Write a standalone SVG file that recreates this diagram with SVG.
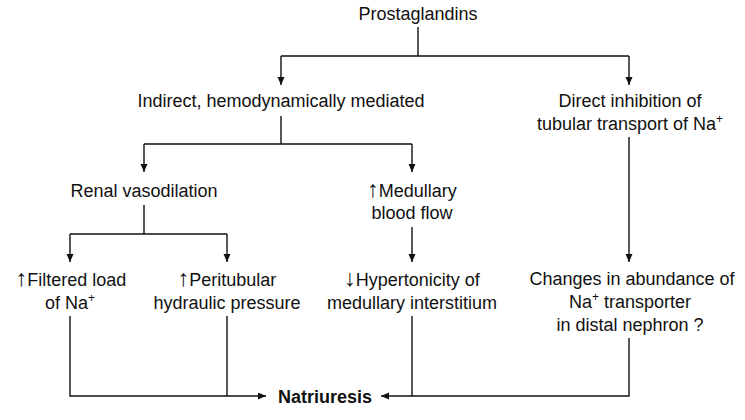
<svg xmlns="http://www.w3.org/2000/svg" width="745" height="420" viewBox="0 0 745 420">
  <defs>
    <style>
      .t { font-family: "Liberation Sans", Arial, sans-serif; font-size: 18px; fill: #111; text-anchor: middle; }
      .b { font-weight: bold; }
      .ar { font-size: 23px; }
      .c { fill: none; stroke: #111; stroke-width: 1.4; }
      .a { marker-end: url(#arr); }
    </style>
    <marker id="arr" markerUnits="userSpaceOnUse" markerWidth="8" markerHeight="8" refX="8" refY="3.5" orient="auto">
      <path d="M0,0 L8,3.5 L0,7 z" fill="#111"/>
    </marker>
  </defs>
  <rect width="745" height="420" fill="#fff"/>

  <g id="connectors">
    <path class="c" d="M418,27 V56 M281,56 H629"/>
    <path class="c a" d="M281,56 V85"/>
    <path class="c a" d="M629,56 V85"/>
    <path class="c" d="M281,116 V144 M144,144 H412"/>
    <path class="c a" d="M144,144 V172"/>
    <path class="c a" d="M412,144 V172"/>
    <path class="c a" d="M629,137 V262"/>
    <path class="c" d="M144,205 V234 M70,234 H227"/>
    <path class="c a" d="M70,234 V262"/>
    <path class="c a" d="M227,234 V262"/>
    <path class="c a" d="M412,227 V262"/>
    <path class="c a" d="M70,316 V396 H266"/>
    <path class="c" d="M227,316 V396"/>
    <path class="c" d="M412,316 V396"/>
    <path class="c a" d="M629,338 V396 H381"/>
  </g>

  <g id="prostaglandins">
    <text class="t" x="418" y="20">Prostaglandins</text>
  </g>
  <g id="indirect">
    <text class="t" x="281" y="107">Indirect, hemodynamically mediated</text>
  </g>
  <g id="direct">
    <text class="t" x="630" y="107">Direct inhibition of</text>
    <text class="t" x="630" y="130">tubular transport of Na<tspan font-size="12" dy="-7">+</tspan></text>
  </g>
  <g id="renal-vasodilation">
    <text class="t" x="144" y="197">Renal vasodilation</text>
  </g>
  <g id="medullary-blood-flow">
    <text class="t" x="412" y="197"><tspan class="ar">↑</tspan>Medullary</text>
    <text class="t" x="412" y="219">blood flow</text>
  </g>
  <g id="filtered-load">
    <text class="t" x="71" y="286"><tspan class="ar">↑</tspan>Filtered load</text>
    <text class="t" x="70" y="309">of Na<tspan font-size="12" dy="-7">+</tspan></text>
  </g>
  <g id="peritubular">
    <text class="t" x="227" y="286"><tspan class="ar">↑</tspan>Peritubular</text>
    <text class="t" x="227" y="309">hydraulic pressure</text>
  </g>
  <g id="hypertonicity">
    <text class="t" x="412" y="286"><tspan class="ar">↓</tspan>Hypertonicity of</text>
    <text class="t" x="412" y="309">medullary interstitium</text>
  </g>
  <g id="changes">
    <text class="t" x="632" y="285">Changes in abundance of</text>
    <text class="t" x="630" y="308">Na<tspan font-size="12" dy="-7">+</tspan><tspan dy="7"> transporter</tspan></text>
    <text class="t" x="630" y="331">in distal nephron ?</text>
  </g>
  <g id="natriuresis">
    <text class="t b" x="325" y="403">Natriuresis</text>
  </g>
</svg>
